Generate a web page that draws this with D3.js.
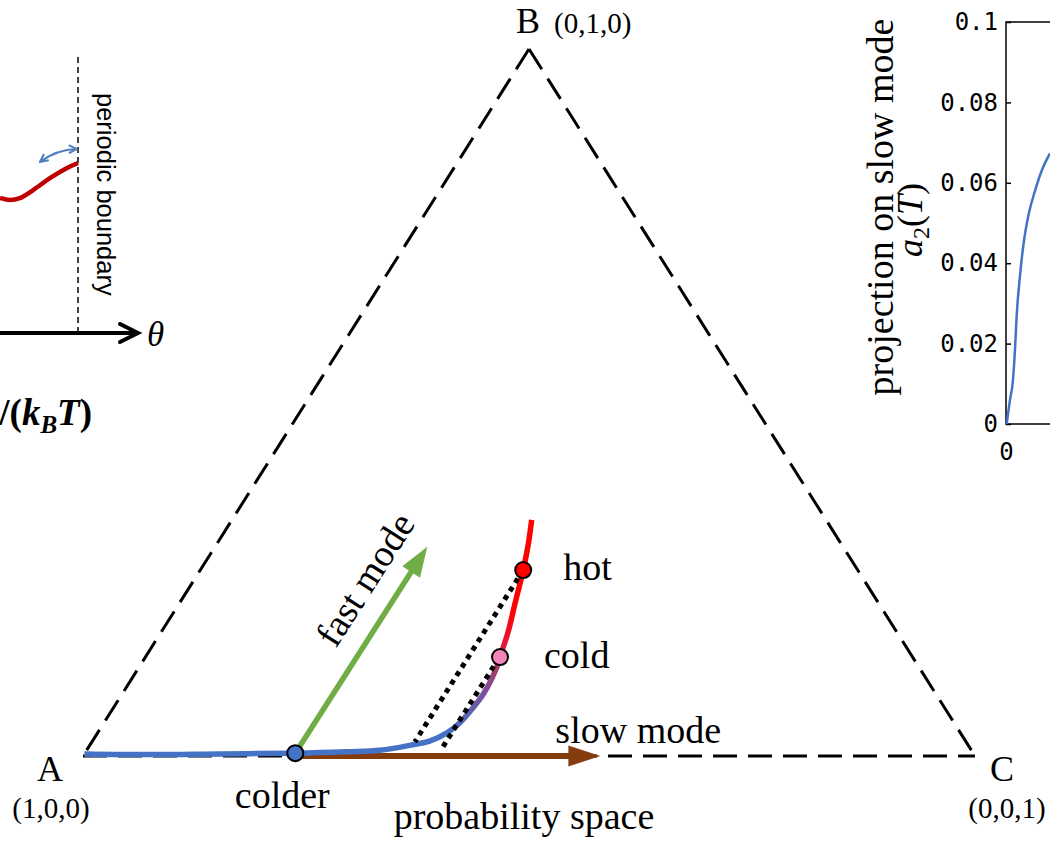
<!DOCTYPE html>
<html><head><meta charset="utf-8">
<script src="https://cdn.jsdelivr.net/npm/d3@7"></script>
<style>body{margin:0;background:#fff} svg{display:block}</style>
</head><body>
<svg id="c" width="1050" height="841"></svg>
<script>
// ================= DATA =================
// simplex vertices (barycentric pB, pC ; pA = 1 - pB - pC)
const vertexNames  = ["A", "B", "C"];
const vertexLabels = ["(1,0,0)", "(0,1,0)", "(0,0,1)"];
const vertexB = [0, 1, 0];
const vertexC = [0, 0, 1];

// relaxation trajectory in probability space (barycentric pB, pC)
const trajB = [0.003, 0.002, 0.003, 0.004, 0.006, 0.008, 0.016, 0.021, 0.033, 0.047, 0.068, 0.088, 0.126, 0.140, 0.175, 0.214, 0.263, 0.298, 0.334];
const trajC = [0.000, 0.074, 0.152, 0.236, 0.293, 0.329, 0.362, 0.378, 0.392, 0.399, 0.403, 0.405, 0.401, 0.3975, 0.389, 0.377, 0.362, 0.350, 0.336];

// marked states
const stateNames = ["colder", "cold", "hot"];
const stateB = [0.004, 0.140, 0.263];
const stateC = [0.236, 0.3975, 0.362];

// mode arrows (from the "colder" state)
const modeNames = ["fast mode", "slow mode"];
const modeStartB = [0.004, 0.000];
const modeStartC = [0.236, 0.238];
const modeTipB   = [0.296, 0.000];
const modeTipC   = [0.238, 0.580];

// dotted projection lines along the fast mode
const dotC       = [0.362, 0.397];
const dotTopB    = [0.263, 0.127];
const dotBottomB = [0.020, 0.011];

// left inset: potential near the periodic boundary (theta / 2pi)
const thetaFrac = [0.800, 0.826, 0.851, 0.885, 0.928, 0.972, 1.000];
const potential = [0.489, 0.482, 0.489, 0.518, 0.561, 0.598, 0.616];

// right inset: projection on slow mode a2(T)
const a2T   = [0.017, 0.10, 0.167, 0.225, 0.267, 0.35, 0.433, 0.558, 0.725, 0.892, 1.10];
const a2Val = [0.0, 0.006, 0.0102, 0.0186, 0.027, 0.0369, 0.0444, 0.0518, 0.058, 0.063, 0.0673];
const a2YTicks = [0, 0.02, 0.04, 0.06, 0.08, 0.1];
const a2YTickLabels = ["0", "0.02", "0.04", "0.06", "0.08", "0.1"];
const a2XTicks = [0];
const a2XTickLabels = ["0"];

// ================= DRAWING =================
const svg = d3.select("#c");
const serif = "'Liberation Serif','Times New Roman',serif";
const sans = "'Liberation Sans',Arial,sans-serif";
const mono = "'DejaVu Sans Mono',monospace";
const LBL = 38;

// ternary scales
const uScale = d3.scaleLinear().domain([0, 1]).range([83, 975]);
const vScale = d3.scaleLinear().domain([0, 1]).range([756, 49]);
const P = (b, c) => [uScale(c + b / 2), vScale(b)];

const defs = svg.append("defs");

// ---- triangle ----
const V = vertexNames.map((n, i) => P(vertexB[i], vertexC[i]));
const tri = svg.append("g").attr("fill", "none").attr("stroke", "#000")
  .attr("stroke-width", 3).attr("stroke-dasharray", "24,11");
[[1, 0], [1, 2], [0, 2]].forEach(([i, j]) => {
  tri.append("line").attr("x1", V[i][0]).attr("y1", V[i][1])
     .attr("x2", V[j][0]).attr("y2", V[j][1]);
});

// vertex labels
const vl = [
  {name: [-33, 25, "middle"], coord: [-32, 62, "middle"]},
  {name: [-1, -16, "middle"], coord: [25, -16, "start"]},
  {name: [27, 25, "middle"], coord: [32, 62, "middle"]}
];
vertexNames.forEach((n, i) => {
  svg.append("text").attr("x", V[i][0] + vl[i].name[0]).attr("y", V[i][1] + vl[i].name[1])
    .attr("text-anchor", vl[i].name[2]).attr("font-family", serif).attr("font-size", 36).text(n);
  svg.append("text").attr("x", V[i][0] + vl[i].coord[0]).attr("y", V[i][1] + vl[i].coord[1])
    .attr("text-anchor", vl[i].coord[2]).attr("font-family", serif).attr("font-size", 29).text(vertexLabels[i]);
});

// ---- arrows with filled heads ----
function arrow(p0, p1, color, width, headLen, headHalf) {
  const dx = p1[0] - p0[0], dy = p1[1] - p0[1];
  const L = Math.hypot(dx, dy), ux = dx / L, uy = dy / L;
  const bx = p1[0] - ux * headLen, by = p1[1] - uy * headLen;
  svg.append("line").attr("x1", p0[0]).attr("y1", p0[1]).attr("x2", bx + ux * 2).attr("y2", by + uy * 2)
    .attr("stroke", color).attr("stroke-width", width);
  svg.append("path").attr("d", d3.line()([p1, [bx - uy * headHalf, by + ux * headHalf], [bx + uy * headHalf, by - ux * headHalf]]) + "Z")
    .attr("fill", color);
}
const modeColors = ["#70AD47", "#843C0C"];
// slow mode (brown) first
arrow(P(modeStartB[1], modeStartC[1]), P(modeTipB[1], modeTipC[1]), modeColors[1], 6, 32, 10.5);

// ---- trajectory with gradient ----
const gB0 = 0.03, gB1 = 0.21;
const grad = defs.append("linearGradient").attr("id", "tg").attr("gradientUnits", "userSpaceOnUse")
  .attr("x1", 0).attr("x2", 0).attr("y1", vScale(gB0)).attr("y2", vScale(gB1));
[[0.030, "#4472C4"], [0.055, "#5866B6"], [0.088, "#7A52A0"], [0.126, "#A83A68"],
 [0.140, "#C42A4C"], [0.165, "#EC1430"], [0.210, "#FF0000"]].forEach(([b, col]) => {
  grad.append("stop").attr("offset", (b - gB0) / (gB1 - gB0)).attr("stop-color", col);
});
const trajPts = trajB.map((b, i) => P(b, trajC[i]));
svg.append("path").attr("d", d3.line().curve(d3.curveCatmullRom.alpha(0.5))(trajPts))
  .attr("fill", "none").attr("stroke", "url(#tg)").attr("stroke-width", 5.5).attr("stroke-linecap", "butt");

// fast mode (green)
const fs = P(modeStartB[0], modeStartC[0]), ft = P(modeTipB[0], modeTipC[0]);
arrow(fs, ft, modeColors[0], 5.5, 30, 10.5);

// dotted lines
dotC.forEach((c, i) => {
  const a = P(dotTopB[i], c), b = P(dotBottomB[i], c);
  svg.append("line").attr("x1", a[0]).attr("y1", a[1]).attr("x2", b[0]).attr("y2", b[1])
    .attr("stroke", "#000").attr("stroke-width", 5).attr("stroke-dasharray", "5,5");
});

// state markers
const stateColors = ["#4472C4", "#F485BC", "#FF0000"];
stateNames.forEach((n, i) => {
  const p = P(stateB[i], stateC[i]);
  svg.append("circle").attr("cx", p[0]).attr("cy", p[1]).attr("r", 8)
    .attr("fill", stateColors[i]).attr("stroke", "#000").attr("stroke-width", 2);
});
// state labels
const stOff = [[-13, 55, "middle"], [44, 11, "start"], [40, 10, "start"]];
stateNames.forEach((n, i) => {
  const p = P(stateB[i], stateC[i]);
  svg.append("text").attr("x", p[0] + stOff[i][0]).attr("y", p[1] + stOff[i][1])
    .attr("text-anchor", stOff[i][2]).attr("font-family", serif).attr("font-size", LBL).text(n);
});

// mode labels
{
  const dx = ft[0] - fs[0], dy = ft[1] - fs[1], L = Math.hypot(dx, dy);
  const ux = dx / L, uy = dy / L, nx = uy, ny = -ux; // n points to upper-left
  const px = fs[0] + ux * 184 + nx * 22, py = fs[1] + uy * 184 + ny * 22;
  const ang = Math.atan2(dy, dx) * 180 / Math.PI;
  svg.append("text").attr("transform", `translate(${px},${py}) rotate(${ang})`)
    .attr("text-anchor", "middle").attr("font-family", serif).attr("font-size", LBL).text(modeNames[0]);
  const st = P(modeTipB[1], modeTipC[1]);
  svg.append("text").attr("x", st[0] - 45).attr("y", st[1] - 13)
    .attr("font-family", serif).attr("font-size", LBL).text(modeNames[1]);
}
svg.append("text").attr("x", uScale(0.5) - 5).attr("y", 829).attr("text-anchor", "middle")
  .attr("font-family", serif).attr("font-size", LBL).text("probability space");

// ================= LEFT INSET =================
const thX = d3.scaleLinear().domain([0.8, 1]).range([0, 78]);
const potY = d3.scaleLinear().domain([0, 1]).range([333, 57]);
svg.append("line").attr("x1", thX(1)).attr("x2", thX(1)).attr("y1", potY(1)).attr("y2", potY(0))
  .attr("stroke", "#000").attr("stroke-width", 1.5).attr("stroke-dasharray", "6,4");
svg.append("path").attr("d", d3.line().curve(d3.curveMonotoneX)(thetaFrac.map((t, i) => [thX(t), potY(potential[i])])))
  .attr("fill", "none").attr("stroke", "#C00000").attr("stroke-width", 4.5);
// theta axis
{
  const y0 = potY(0), tip = thX(1) + 60;
  svg.append("line").attr("x1", thX(0.8)).attr("x2", tip - 2).attr("y1", y0).attr("y2", y0)
    .attr("stroke", "#000").attr("stroke-width", 4);
  svg.append("path").attr("d", d3.line()([[tip - 18, y0 - 9], [tip, y0], [tip - 18, y0 + 9]]))
    .attr("fill", "none").attr("stroke", "#000").attr("stroke-width", 4).attr("stroke-linejoin", "miter").attr("stroke-linecap", "round");
  svg.append("text").attr("x", tip + 9).attr("y", y0 + 13).attr("font-family", serif)
    .attr("font-style", "italic").attr("font-size", 35).text("θ");
}
// periodic boundary text
svg.append("text").attr("transform", `translate(${thX(1) + 19},93) rotate(90)`)
  .attr("font-family", sans).attr("font-size", 25.5).text("periodic boundary");
// blue double arrow
defs.append("marker").attr("id", "chev").attr("viewBox", "0 0 10 10").attr("refX", 9).attr("refY", 5)
  .attr("markerWidth", 10).attr("markerHeight", 10).attr("markerUnits", "userSpaceOnUse")
  .attr("orient", "auto-start-reverse")
  .append("path").attr("d", "M1,1 L9,5 L1,9").attr("fill", "none").attr("stroke", "#4F81BD").attr("stroke-width", 2);
{
  const a = [thX(0.9026), potY(0.6196)], b = [thX(0.997), potY(0.6667)];
  svg.append("path").attr("d", `M${a[0]},${a[1]} Q${(a[0] + b[0]) / 2 - 2},${(a[1] + b[1]) / 2 - 6} ${b[0]},${b[1]}`)
    .attr("fill", "none").attr("stroke", "#4F81BD").attr("stroke-width", 2.2)
    .attr("marker-start", "url(#chev)").attr("marker-end", "url(#chev)");
}
// energy label (partially cut)
{
  const t = svg.append("text").attr("x", 92).attr("y", 425).attr("text-anchor", "end")
    .attr("font-family", serif).attr("font-weight", "bold").attr("font-style", "italic").attr("font-size", 37);
  t.append("tspan").attr("font-style", "normal").text("/(");
  t.append("tspan").text("k");
  t.append("tspan").attr("font-size", 25).attr("dy", 8).text("B");
  t.append("tspan").attr("dy", -8).text("T");
  t.append("tspan").attr("font-style", "normal").text(")");
}

// ================= RIGHT INSET =================
const rx = d3.scaleLinear().domain([0, 10]).range([1006, 1406]);
const ry = d3.scaleLinear().domain([0, 0.1]).range([424, 22]);
svg.append("rect").attr("x", rx(0)).attr("y", ry(0.1)).attr("width", rx(10) - rx(0)).attr("height", ry(0) - ry(0.1))
  .attr("fill", "none").attr("stroke", "#000").attr("stroke-width", 1.5);
const yAx = svg.append("g").attr("transform", `translate(${rx(0)},0)`)
  .call(d3.axisLeft(ry).tickValues(a2YTicks).tickFormat((d, i) => a2YTickLabels[i]).tickSizeInner(-5).tickSizeOuter(0).tickPadding(8));
yAx.select(".domain").remove();
yAx.selectAll("text").attr("font-family", mono).attr("font-size", 24).attr("fill", "#000");
yAx.selectAll("line").attr("stroke-width", 1.5);
const xAx = svg.append("g").attr("transform", `translate(0,${ry(0)})`)
  .call(d3.axisBottom(rx).tickValues(a2XTicks).tickFormat((d, i) => a2XTickLabels[i]).tickSizeInner(-5).tickSizeOuter(0).tickPadding(19));
xAx.select(".domain").remove();
xAx.selectAll("text").attr("font-family", mono).attr("font-size", 24).attr("fill", "#000");
svg.append("path").attr("d", d3.line().curve(d3.curveMonotoneX)(a2T.map((t, i) => [rx(t), ry(a2Val[i])])))
  .attr("fill", "none").attr("stroke", "#4472C4").attr("stroke-width", 2.5);
// y labels
svg.append("text").attr("transform", `translate(893,207) rotate(-90)`).attr("text-anchor", "middle")
  .attr("font-family", serif).attr("font-size", 38).text("projection on slow mode");
{
  const t = svg.append("text").attr("transform", `translate(922,220) rotate(-90)`).attr("text-anchor", "middle")
    .attr("font-family", serif).attr("font-size", 36);
  t.append("tspan").attr("font-style", "italic").text("a");
  t.append("tspan").attr("font-size", 24).attr("dy", 7).text("2");
  t.append("tspan").attr("dy", -7).text("(");
  t.append("tspan").attr("font-style", "italic").text("T");
  t.append("tspan").text(")");
}
</script>
</body></html>
